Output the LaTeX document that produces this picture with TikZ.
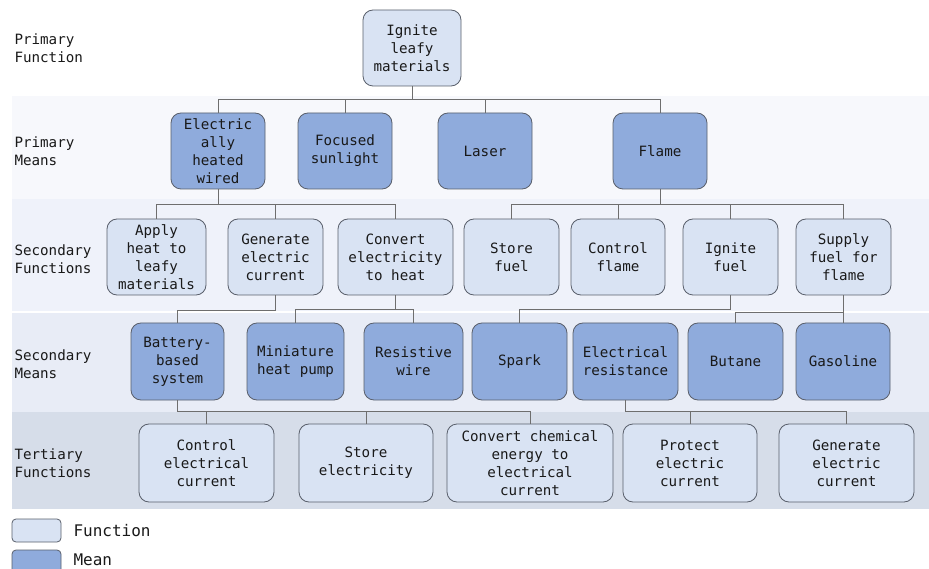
\documentclass[tikz,border=0pt]{standalone}
\usepackage{fontspec}
\newfontfamily\diagfont{DejaVu Sans Mono}
\definecolor{bandA}{HTML}{F7F8FC}
\definecolor{bandB}{HTML}{EFF2FA}
\definecolor{bandC}{HTML}{E8ECF6}
\definecolor{bandD}{HTML}{D6DDE9}
\definecolor{fncol}{HTML}{D9E3F3}
\definecolor{mncol}{HTML}{8FABDC}
\definecolor{edgecol}{HTML}{595F6B}
\definecolor{linkcol}{HTML}{6E6E6E}
\begin{document}
\begin{tikzpicture}[x=1pt,y=-1pt,
  every node/.style={font=\diagfont\fontsize{14.2}{18}\selectfont, text=black!90},
  boxbase/.style={draw=edgecol, line width=0.8pt, rounded corners=10pt, align=center, inner sep=0pt},
  fnbox/.style={boxbase, fill=fncol},
  mnbox/.style={boxbase, fill=mncol},
  link/.style={draw=linkcol, line width=0.9pt},
  rowlabel/.style={anchor=west, align=left},
  legendtext/.style={anchor=west, font=\diagfont\fontsize{16}{18}\selectfont}]
\useasboundingbox (0,0) rectangle (929,569);

% level bands
\fill[bandA] (12,96.5) rectangle (929,199);
\fill[bandB] (12,199.5) rectangle (929,311.5);
\fill[bandC] (12,313) rectangle (929,411.5);
\fill[bandD] (12,412) rectangle (929,509);

% row labels
\node[rowlabel] (lab1) at (11,48) {Primary\\Function};
\node[rowlabel] (lab2) at (11,151) {Primary\\Means};
\node[rowlabel] (lab3) at (11,259) {Secondary\\Functions};
\node[rowlabel] (lab4) at (11,364) {Secondary\\Means};
\node[rowlabel] (lab5) at (11,463.5) {Tertiary\\Functions};

% primary function
\node[fnbox, minimum width=98pt, minimum height=76pt] (ign) at (412,48) {Ignite\\leafy\\materials};

% primary means
\node[mnbox, minimum width=94pt, minimum height=76pt] (ehw) at (218,151) {Electric\\ally\\heated\\wired};
\node[mnbox, minimum width=94pt, minimum height=76pt] (fs) at (345,151) {Focused\\sunlight};
\node[mnbox, minimum width=94pt, minimum height=76pt] (las) at (485,151) {Laser};
\node[mnbox, minimum width=94pt, minimum height=76pt] (fla) at (660,151) {Flame};

% secondary functions
\node[fnbox, minimum width=99pt, minimum height=76pt] (ah) at (156.5,257) {Apply\\heat to\\leafy\\materials};
\node[fnbox, minimum width=95pt, minimum height=76pt] (gec) at (275.5,257) {Generate\\electric\\current};
\node[fnbox, minimum width=115pt, minimum height=76pt] (ceh) at (395.5,257) {Convert\\electricity\\to heat};
\node[fnbox, minimum width=95pt, minimum height=76pt] (sf) at (511.5,257) {Store\\fuel};
\node[fnbox, minimum width=94pt, minimum height=76pt] (cf) at (618,257) {Control\\flame};
\node[fnbox, minimum width=95pt, minimum height=76pt] (igf) at (730.5,257) {Ignite\\fuel};
\node[fnbox, minimum width=95pt, minimum height=76pt] (sff) at (843.5,257) {Supply\\fuel for\\flame};

% secondary means
\node[mnbox, minimum width=93pt, minimum height=77pt] (bbs) at (177.5,361.5) {Battery-\\based\\system};
\node[mnbox, minimum width=97pt, minimum height=77pt] (mhp) at (295.5,361.5) {Miniature\\heat pump};
\node[mnbox, minimum width=99pt, minimum height=77pt] (rw) at (413.5,361.5) {Resistive\\wire};
\node[mnbox, minimum width=95pt, minimum height=77pt] (sp) at (519.5,361.5) {Spark};
\node[mnbox, minimum width=105pt, minimum height=77pt] (er) at (625.5,361.5) {Electrical\\resistance};
\node[mnbox, minimum width=95pt, minimum height=77pt] (bu) at (735.5,361.5) {Butane};
\node[mnbox, minimum width=94pt, minimum height=77pt] (ga) at (843,361.5) {Gasoline};

% tertiary functions
\node[fnbox, minimum width=135pt, minimum height=78pt] (cec) at (206.5,463) {Control\\electrical\\current};
\node[fnbox, minimum width=134pt, minimum height=78pt] (se) at (366,463) {Store\\electricity};
\node[fnbox, minimum width=166pt, minimum height=78pt] (cce) at (530,463) {Convert chemical\\energy to\\electrical\\current};
\node[fnbox, minimum width=134pt, minimum height=78pt] (pec) at (690,463) {Protect\\electric\\current};
\node[fnbox, minimum width=135pt, minimum height=78pt] (gec2) at (846.5,463) {Generate\\electric\\current};

% legend
\node[fnbox, rounded corners=4pt, minimum width=49pt, minimum height=23pt] (legf) at (36.5,530.5) {};
\node[legendtext] (legft) at (70,531) {Function};
\node[mnbox, rounded corners=4pt, minimum width=49pt, minimum height=23pt] (legm) at (36.5,561.5) {};
\node[legendtext] (legmt) at (70,559.5) {Mean};

% connectors: primary function -> primary means
\foreach \c in {ehw,fs,las,fla}
  \draw[link] (ign.south) -- (ign.south |- 0,99) -| (\c.north);

% primary means -> secondary functions
\foreach \c in {ah,gec,ceh}
  \draw[link] (ehw.south) -- (ehw.south |- 0,204) -| (\c.north);
\foreach \c in {sf,cf,igf,sff}
  \draw[link] (fla.south) -- (fla.south |- 0,204) -| (\c.north);

% secondary functions -> secondary means
\draw[link] (gec.south) -- (gec.south |- 0,310) -| (bbs.north);
\foreach \c in {mhp,rw}
  \draw[link] (ceh.south) -- (ceh.south |- 0,309) -| (\c.north);
\draw[link] (igf.south) -- (igf.south |- 0,309) -| (sp.north);
\foreach \c in {bu,ga}
  \draw[link] (sff.south) -- (sff.south |- 0,312) -| (\c.north);

% secondary means -> tertiary functions
\foreach \c in {cec,se,cce}
  \draw[link] (bbs.south) -- (bbs.south |- 0,411.5) -| (\c.north);
\foreach \c in {pec,gec2}
  \draw[link] (er.south) -- (er.south |- 0,411.5) -| (\c.north);
\end{tikzpicture}
\end{document}
